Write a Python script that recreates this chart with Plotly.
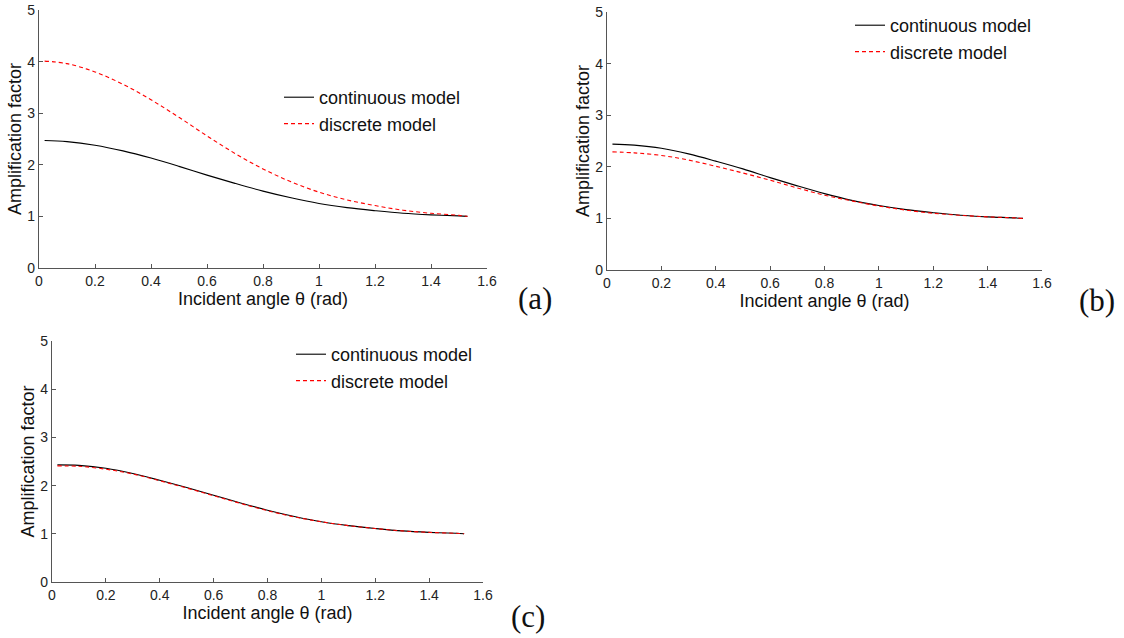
import plotly.graph_objects as go

W, H = 1124, 638

theta = [0.02, 0.1, 0.2, 0.3, 0.4, 0.5, 0.6, 0.7, 0.8, 0.9, 1.0, 1.1, 1.2, 1.3, 1.4, 1.5, 1.53]

cont_a = [2.47, 2.45, 2.38, 2.27, 2.13, 1.97, 1.80, 1.64, 1.49, 1.36, 1.25, 1.17, 1.11, 1.06, 1.03, 1.01, 1.00]
disc_a = [4.01, 3.96, 3.80, 3.56, 3.26, 2.92, 2.56, 2.22, 1.92, 1.67, 1.47, 1.32, 1.21, 1.12, 1.06, 1.02, 1.00]
cont_b = [2.44, 2.42, 2.36, 2.25, 2.11, 1.96, 1.79, 1.63, 1.48, 1.35, 1.25, 1.17, 1.11, 1.06, 1.03, 1.01, 1.00]
disc_b = [2.29, 2.27, 2.22, 2.13, 2.01, 1.88, 1.74, 1.59, 1.45, 1.34, 1.24, 1.16, 1.10, 1.06, 1.03, 1.01, 1.00]
cont_c = [2.43, 2.42, 2.36, 2.25, 2.11, 1.96, 1.80, 1.64, 1.49, 1.36, 1.25, 1.17, 1.11, 1.06, 1.03, 1.01, 1.00]
disc_c = [2.41, 2.40, 2.34, 2.24, 2.10, 1.95, 1.79, 1.63, 1.48, 1.35, 1.25, 1.17, 1.11, 1.06, 1.03, 1.01, 1.00]

series_names = ["continuous model", "discrete model"]
panel_labels = ["(a)", "(b)", "(c)"]
x_title = "Incident angle θ (rad)"
y_title = "Amplification factor"

def px_x(p):
    return p / W

def px_y(p):
    return 1 - p / H

# panel pixel boxes: (left, right, top, bottom)
boxes = [(39, 487, 10, 268), (607, 1042, 12, 270), (52, 483, 341, 582)]
legend_pos = [(279, 79), (850, 7), (291, 336)]
label_pos = [(535, 298), (1097, 300), (528, 616)]

data = [(cont_a, disc_a), (cont_b, disc_b), (cont_c, disc_c)]

fig = go.Figure()
FONT = "Liberation Sans, Arial, sans-serif"
AX = "#555555"

for i, (c, d) in enumerate(data):
    sfx = "" if i == 0 else str(i + 1)
    leg = "legend" if i == 0 else "legend" + str(i + 1)
    fig.add_trace(go.Scatter(x=theta, y=c, mode="lines", name=series_names[0],
                             line=dict(color="black", width=1.1, shape="spline"),
                             xaxis="x" + sfx, yaxis="y" + sfx, legend=leg))
    fig.add_trace(go.Scatter(x=theta, y=d, mode="lines", name=series_names[1],
                             line=dict(color="red", width=1.1, dash="4px,3px", shape="spline"),
                             xaxis="x" + sfx, yaxis="y" + sfx, legend=leg))

layout = dict(
    width=W, height=H,
    margin=dict(l=0, r=0, t=0, b=0),
    paper_bgcolor="white", plot_bgcolor="white",
    font=dict(family=FONT, color="#222222", size=14),
)

annotations = []
for i, (l, r, t, b) in enumerate(boxes):
    sfx = "" if i == 0 else str(i + 1)
    xa = dict(domain=[px_x(l), px_x(r)], range=[0, 1.6], dtick=0.2, tick0=0,
              showline=True, linecolor=AX, linewidth=1.3, ticks="inside", ticklen=4,
              tickcolor=AX, showgrid=False, zeroline=False,
              anchor="y" + sfx, tickfont=dict(size=14, family=FONT, color="#222"),
              title=dict(text=x_title, font=dict(size=18, family=FONT, color="#111"), standoff=1),
              automargin=False)
    ya = dict(domain=[px_y(b), px_y(t)], range=[0, 5], dtick=1, tick0=0,
              showline=True, linecolor=AX, linewidth=1.3, ticks="inside", ticklen=4,
              tickcolor=AX, showgrid=False, zeroline=False,
              anchor="x" + sfx, tickfont=dict(size=14, family=FONT, color="#222"),
              title=dict(text=y_title, font=dict(size=18, family=FONT, color="#111"), standoff=0),
              automargin=False)
    layout["xaxis" + sfx] = xa
    layout["yaxis" + sfx] = ya
    lx, ly = legend_pos[i]
    leg = "legend" if i == 0 else "legend" + str(i + 1)
    layout[leg] = dict(x=px_x(lx), y=px_y(ly), xanchor="left", yanchor="top",
                       font=dict(size=18, family=FONT, color="#111"),
                       bgcolor="rgba(0,0,0,0)", borderwidth=0, tracegroupgap=0)
    ax_, ay_ = label_pos[i]
    annotations.append(dict(text=panel_labels[i], x=px_x(ax_), y=px_y(ay_),
                            xref="paper", yref="paper", showarrow=False,
                            xanchor="center", yanchor="middle",
                            font=dict(size=31, family="Liberation Serif, DejaVu Serif, serif", color="#111")))

layout["annotations"] = annotations
layout["showlegend"] = True
fig.update_layout(**layout)

fig.write_html("out.html")
